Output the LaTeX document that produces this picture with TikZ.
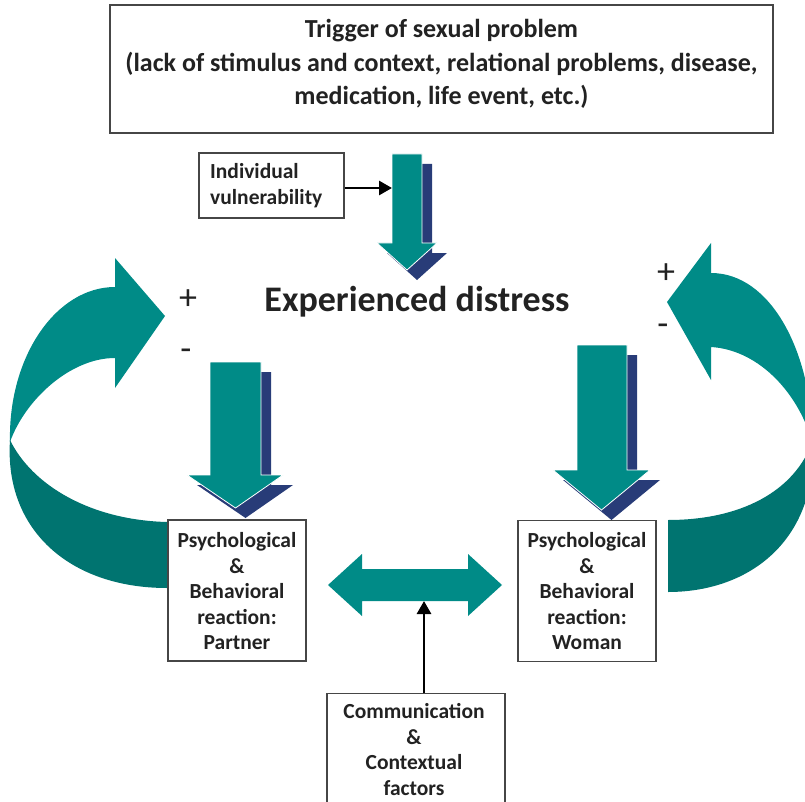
\documentclass[tikz,border=0pt]{standalone}
\usepackage{fontspec}
\setmainfont{Carlito}
\usetikzlibrary{arrows.meta}
\definecolor{arrowteal}{RGB}{0,139,135}
\definecolor{ribbondark}{RGB}{0,116,112}
\definecolor{shadownavy}{RGB}{40,60,120}
\definecolor{ink}{RGB}{34,34,34}
\definecolor{boxline}{RGB}{70,70,70}

% fat downward arrow with a navy drop shadow:
% #1,#2 shaft left/right, #3 top, #4 head base, #5,#6 head left/right, #7 tip
\newcommand\bigdown[7]{%
  \path[dropnavy, shift={(10,10)}] (#1,#3) -- (#2,#3) -- (#2,#4) -- (#6,#4) -- (#7) -- (#5,#4) -- (#1,#4) -- cycle;
  \path[frontteal] (#1,#3) -- (#2,#3) -- (#2,#4) -- (#6,#4) -- (#7) -- (#5,#4) -- (#1,#4) -- cycle;}

\begin{document}
\begin{tikzpicture}[x=1pt,y=-1pt,
  box/.style={draw=boxline, line width=1.3pt, inner sep=0pt, fill=white},
  txt/.style={text=ink, font=\bfseries\fontsize{21.5}{25.5}\selectfont, align=center, inner sep=0pt},
  sign/.style={text=ink, font=\fontsize{36}{36}\selectfont, inner sep=0pt},
  link/.style={line width=2.8pt, black, -{Triangle[length=13pt,width=14pt]}},
  frontteal/.style={fill=arrowteal, draw=white, line width=0.8pt},
  backface/.style={fill=ribbondark},
  frontface/.style={fill=arrowteal},
  dropnavy/.style={fill=shadownavy}]
\useasboundingbox (0,0) rectangle (805,802);
\begin{scope}
\clip (0,0) rectangle (805,802);

% trigger box
\node[box, minimum width=663pt, minimum height=128pt] (trigger) at (441.5,69) {};
\node[txt, font=\bfseries\fontsize{26}{33.5}\selectfont] (triggertext) at (441.5,64)
  {Trigger of sexual problem\\(lack of stimulus and context, relational problems, disease,\\medication, life event, etc.)};

% left curved feedback arrow
\path[backface] (10,440) .. controls (4,530) and (70,588) .. (167,588) -- (167,522)
  .. controls (90,520) and (32,485) .. (10,440) -- cycle;
\path[frontface] (115,258) -- (165,316) -- (115,388) -- (115,358)
  .. controls (70,358) and (25,400) .. (10,442)
  .. controls (8,357) and (56,287) .. (115,287) -- cycle;

% right curved feedback arrow
\path[backface] (813,440) .. controls (818,540) and (750,592) .. (668,592) -- (668,520)
  .. controls (740,520) and (795,492) .. (813,440) -- cycle;
\path[frontface] (711,243) -- (667,302) -- (711,380) -- (711,347)
  .. controls (760,350) and (800,395) .. (813,445)
  .. controls (812,350) and (770,273) .. (711,273) -- cycle;

% downward arrows
\bigdown{392}{422}{154}{243}{377}{437}{407,270}
\bigdown{210}{261}{362}{475}{187}{283}{235.5,508}
\bigdown{577}{627}{345}{470}{553}{650}{601.5,510}
\coordinate (trigarrow) at (392,188);

% individual vulnerability
\node[box, minimum width=145pt, minimum height=65pt] (vuln) at (271.5,185.5) {};
\node[txt, align=left, anchor=west, font=\bfseries\fontsize{21.5}{26}\selectfont] (vulntext) at (210,186)
  {Individual\\vulnerability};
\draw[link] (vuln.east |- trigarrow) -- (trigarrow);

% central label and signs
\node[text=ink, font=\bfseries\fontsize{36}{36}\selectfont, inner sep=0pt] (distress) at (417,302) {Experienced distress};
\node[sign] (lplus) at (188,300) {+};
\node[sign] (lminus) at (186,355) {-};
\node[sign] (rplus) at (666,274) {+};
\node[sign] (rminus) at (663,330) {-};

% reaction boxes
\node[box, minimum width=138pt, minimum height=141pt] (partner) at (237,590.5) {};
\node[txt] (partnertext) at (237,591.5) {Psychological\\\&\\Behavioral\\reaction:\\Partner};
\node[box, minimum width=138pt, minimum height=141pt] (woman) at (587,591) {};
\node[txt] (womantext) at (587,591.5) {Psychological\\\&\\Behavioral\\reaction:\\Woman};

% two-way arrow between the reactions
\path[frontface] (328,585) -- (362,554) -- (362,569) -- (468,569) -- (468,554) -- (502,585)
  -- (468,616) -- (468,601) -- (362,601) -- (362,616) -- cycle;
\coordinate (dblarrow) at (424,601);

% communication box
\node[box, minimum width=178pt, minimum height=140pt, anchor=north] (comm) at (416,693) {};
\node[txt] (commtext) at (414,749.5) {Communication\\\&\\Contextual\\factors};
\draw[link] (comm.north -| dblarrow) -- (dblarrow);
\end{scope}
\end{tikzpicture}
\end{document}
